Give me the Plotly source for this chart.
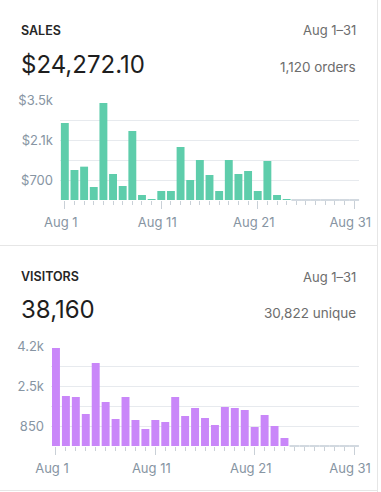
import plotly.graph_objects as go

# ---------------- data ----------------
days = list(range(1, 32))
sales = [2695, 1050, 1167, 455, 3395, 910, 490, 2415, 175, 35, 315, 315, 1855, 700,
         1400, 875, 315, 1400, 910, 1015, 315, 1365, 175, 35,
         None, None, None, None, None, None, None]
visitors = [4165, 2125, 2083, 1360, 3527, 1870, 1148, 2083, 1105, 723, 1105, 1020, 2083, 1275,
            1615, 1190, 893, 1658, 1615, 1530, 808, 1318, 850, 340,
            None, None, None, None, None, None, None]
x_tick_days = [1, 11, 21, 31]
x_tick_labels = ["Aug 1", "Aug 11", "Aug 21", "Aug 31"]
sales_grid = [700, 1400, 2100, 2800, 3500]
sales_tick_text = ["$700", "", "$2.1k", "", "$3.5k"]
visitor_grid = [850, 1700, 2550, 3400, 4250]
visitor_tick_text = ["850", "", "2.5k", "", "4.2k"]

sales_title = "SALES"
sales_total = "$24,272.10"
sales_sub = "1,120 orders"
visitors_title = "VISITORS"
visitors_total = "38,160"
visitors_sub = "30,822 unique"
period = "Aug 1\u201331"

# ---------------- style ----------------
W, H = 381, 492
FONT = "Inter, 'Noto Sans', sans-serif"
TEAL = "#5ecdab"
PURPLE = "#c987f9"
EMPTY = "#d2d9e0"
GRID = "#e7eaee"
TICK = "#c9d0d7"
TICKTXT = "#8795a3"


def px(x):
    return x / W


def py(y):
    return 1 - y / H


missing_s = [d for d, v in zip(days, sales) if v is None]
missing_v = [d for d, v in zip(days, visitors) if v is None]

fig = go.Figure()
fig.add_trace(go.Bar(x=days, y=sales, marker=dict(color=TEAL, line=dict(width=0)),
                     width=0.82, xaxis="x", yaxis="y", hoverinfo="skip"))
fig.add_trace(go.Scatter(x=missing_s, y=[0] * len(missing_s), mode="markers",
                         marker=dict(symbol="line-ew", size=7, line=dict(width=2, color=EMPTY)),
                         cliponaxis=False, xaxis="x", yaxis="y", hoverinfo="skip"))
fig.add_trace(go.Bar(x=days, y=visitors, marker=dict(color=PURPLE, line=dict(width=0)),
                     width=0.8, xaxis="x2", yaxis="y2", hoverinfo="skip"))
fig.add_trace(go.Scatter(x=missing_v, y=[0] * len(missing_v), mode="markers",
                         marker=dict(symbol="line-ew", size=7, line=dict(width=2, color=EMPTY)),
                         cliponaxis=False, xaxis="x2", yaxis="y2", hoverinfo="skip"))


def xaxis_cfg(left, right, anchor):
    return dict(domain=[px(left), px(right)], range=[0.5, 31.5], anchor=anchor,
                tickmode="array", tickvals=x_tick_days, ticktext=x_tick_labels,
                ticks="outside", ticklen=8, tickwidth=1, tickcolor=TICK,
                minor=dict(tickmode="array", tickvals=days, ticks="outside", ticklen=4,
                           tickwidth=1, tickcolor=TICK, showgrid=False),
                showgrid=False, zeroline=False, showline=False, automargin=False,
                tickfont=dict(family=FONT, size=13, color=TICKTXT),
                ticklabelshift=-4, ticklabelstandoff=2, fixedrange=True)


def yaxis_cfg(top, bottom, rng, vals, text, anchor):
    return dict(domain=[py(bottom), py(top)], range=rng, anchor=anchor,
                tickmode="array", tickvals=vals, ticktext=text,
                showgrid=True, gridcolor=GRID, gridwidth=1, zeroline=False, showline=False,
                ticks="", automargin=False, tickfont=dict(family=FONT, size=13, color=TICKTXT),
                ticklabelstandoff=6, fixedrange=True)


fig.update_layout(
    template="none",
    width=W, height=H, margin=dict(l=0, r=0, t=0, b=0, pad=0, autoexpand=False),
    paper_bgcolor="white", plot_bgcolor="white", showlegend=False,
    xaxis=xaxis_cfg(60, 359, "y"),
    yaxis=yaxis_cfg(100, 200, [0, 3500], sales_grid, sales_tick_text, "x"),
    xaxis2=xaxis_cfg(51, 359, "y2"),
    yaxis2=yaxis_cfg(346, 446, [0, 4250], visitor_grid, visitor_tick_text, "x2"),
)

ann = []


def text(t, x, y, size, color, anchor="left", weight="normal"):
    ann.append(dict(text=t, x=px(x), y=py(y), xref="paper", yref="paper",
                    xanchor=anchor, yanchor="middle", showarrow=False,
                    font=dict(family=FONT, size=size, color=color, weight=weight)))


text(sales_title, 19, 30, 12.5, "#262626", weight=600)
text(period, 358, 30, 13, "#6d6d6d", anchor="right")
text(sales_total, 19, 64, 24, "#1e1e1e")
text(sales_sub, 358, 67, 13.5, "#6d6d6d", anchor="right")
text(visitors_title, 19, 276, 12.5, "#262626", weight=600)
text(period, 358, 277, 13, "#6d6d6d", anchor="right")
text(visitors_total, 19, 309, 24, "#1e1e1e")
text(visitors_sub, 358, 313, 13.5, "#6d6d6d", anchor="right")
fig.update_layout(annotations=ann)

fig.update_layout(shapes=[
    dict(type="line", xref="paper", yref="paper", x0=0, x1=px(377), y0=py(245.5), y1=py(245.5),
         line=dict(color="#e6e6e6", width=1)),
    dict(type="line", xref="paper", yref="paper", x0=0, x1=px(377), y0=py(490.5), y1=py(490.5),
         line=dict(color="#e6e6e6", width=1)),
    dict(type="line", xref="paper", yref="paper", x0=px(377.5), x1=px(377.5), y0=0, y1=1,
         line=dict(color="#e6e6e6", width=1)),
])

fig.write_html("out.html", config={"displayModeBar": False},
               post_script="document.body.style.margin='0';document.body.style.padding='0';")
